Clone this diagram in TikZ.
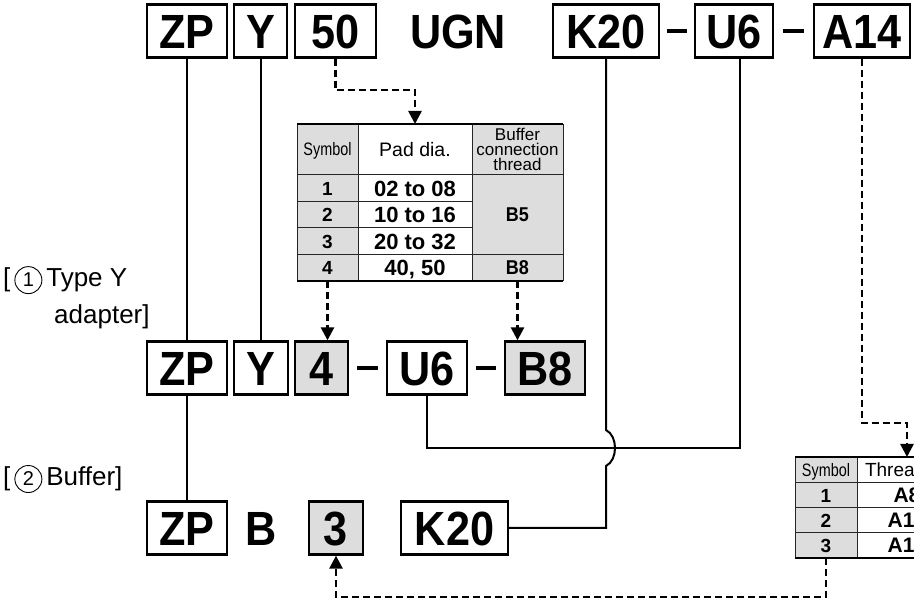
\documentclass[tikz,border=0pt]{standalone}
\usepackage{fontspec}
\setmainfont{Liberation Sans}
\newfontfamily\condf{Liberation Sans}[FakeStretch=0.9]
\newfontfamily\symf{Liberation Sans}[FakeStretch=0.8]
\usetikzlibrary{arrows.meta}
\definecolor{cg}{RGB}{221,221,221}
\newcommand{\circnum}[1]{\tikz[baseline=(cn.base)]\node[circle,draw,line width=0.9pt,inner sep=0pt,minimum size=27pt,font=\fontsize{20}{20}\selectfont](cn){#1};}
\begin{document}
\begin{tikzpicture}[x=1pt,y=-1pt,
  big/.style={inner sep=0pt,text height=34.5pt,text depth=0pt,font=\condf\bfseries\fontsize{48}{48}\selectfont},
  box/.style={big,draw,line width=2.3pt,minimum height=53pt},
  gbox/.style={box,fill=cg},
  conn/.style={line width=2pt},
  darr/.style={line width=2.5pt,dash pattern=on 7pt off 4pt,-{Triangle[width=13pt,length=13pt]}},
  hy/.style={line width=3.5pt,shorten <=8pt,shorten >=8pt},
  cell/.style={inner sep=0pt,outer sep=0pt,draw=none},
  tsym/.style={font=\symf\fontsize{18}{18}\selectfont,text height=13pt,text depth=0pt},
  treg/.style={font=\fontsize{19.5}{19.5}\selectfont,text height=14pt,text depth=0pt},
  tnum/.style={font=\bfseries\fontsize{19}{19}\selectfont,text height=13.6pt,text depth=0pt},
  tpad/.style={font=\bfseries\fontsize{22}{22}\selectfont,text height=15.8pt,text depth=0pt},
  tbuf/.style={font=\condf\bfseries\fontsize{20}{20}\selectfont,text height=14.3pt,text depth=0pt},
  tl/.style={line width=1pt,black!85},
  tk/.style={line width=2.2pt},
  lbl/.style={inner sep=0pt,font=\fontsize{26}{26}\selectfont}
]
\useasboundingbox (0,0) rectangle (914,601);
\clip (0,0) rectangle (914,601);

% ---------- top row ----------
\node[box,minimum width=80pt] (zpT) at (187,31) {ZP};
\node[box,minimum width=53pt] (yT) at (260.5,31) {Y};
\node[box,minimum width=81pt] (n50) at (335.5,31) {50};
\node[big] (ugn) at (458,31) {UGN};
\node[box,minimum width=106pt] (k20T) at (606,31) {K20};
\node[box,minimum width=78pt] (u6T) at (734,31) {U6};
\node[box,minimum width=96pt] (a14) at (862,31) {A14};
\draw[hy,shorten <=7pt,shorten >=7pt] (k20T.east) -- (u6T.west);
\draw[hy,shorten <=9pt,shorten >=9pt] (u6T.east) -- (a14.west);

% ---------- middle row ----------
\node[box,minimum width=80pt] (zpM) at (187,368) {ZP};
\node[box,minimum width=54pt] (yM) at (261,368) {Y};
\node[gbox,minimum width=53pt] (n4) at (321.5,368) {4};
\node[box,minimum width=80pt] (u6M) at (427,368) {U6};
\node[gbox,minimum width=80pt] (b8) at (545,368) {B8};
\draw[hy] (n4.east) -- (u6M.west);
\draw[hy] (u6M.east) -- (b8.west);

% ---------- bottom row ----------
\node[box,minimum width=80pt] (zpB) at (187,528) {ZP};
\node[big] (bB) at (261,528) {B};
\node[gbox,minimum width=54pt] (n3) at (336,528) {3};
\node[box,minimum width=107pt] (k20B) at (454.5,528) {K20};

% ---------- labels ----------
\node[lbl,anchor=base west] (lab1) at (3,287) {[\hspace{4pt}\circnum{1}\hspace{4pt}Type Y};
\node[lbl,anchor=base west] (lab1b) at (54,324) {adapter]};
\node[lbl,anchor=base west] (lab2) at (3,486) {[\hspace{4pt}\circnum{2}\hspace{4pt}Buffer]};

% ---------- middle table ----------
\node[cell,fill=cg,minimum width=61pt,minimum height=51pt,tsym] (symh) at (327.5,149.5) {Symbol};
\node[cell,fill=white,minimum width=114pt,minimum height=51pt,treg] (padh) at (415,149.5) {Pad dia.};
\node[cell,fill=cg,minimum width=91pt,minimum height=51pt,align=center,font=\fontsize{17}{15}\selectfont] (bufh) at (517.5,149.5) {Buffer\\connection\\thread};
\node[cell,fill=cg,minimum width=61pt,minimum height=26.5pt,tnum] (sym1) at (327.5,188.25) {1};
\node[cell,fill=cg,minimum width=61pt,minimum height=26.5pt,tnum] (sym2) at (327.5,214.75) {2};
\node[cell,fill=cg,minimum width=61pt,minimum height=26.5pt,tnum] (sym3) at (327.5,241.25) {3};
\node[cell,fill=cg,minimum width=61pt,minimum height=26.5pt,tnum] (sym4) at (327.5,267.75) {4};
\node[cell,fill=white,minimum width=114pt,minimum height=26.5pt,tpad] (pad1) at (415,188.25) {02 to 08};
\node[cell,fill=white,minimum width=114pt,minimum height=26.5pt,tpad] (pad2) at (415,214.75) {10 to 16};
\node[cell,fill=white,minimum width=114pt,minimum height=26.5pt,tpad] (pad3) at (415,241.25) {20 to 32};
\node[cell,fill=white,minimum width=114pt,minimum height=26.5pt,tpad] (pad4) at (415,267.75) {40, 50};
\node[cell,fill=cg,minimum width=91pt,minimum height=79.5pt,tbuf] (buf13) at (517.5,214.75) {B5};
\node[cell,fill=cg,minimum width=91pt,minimum height=26.5pt,tbuf] (buf4) at (517.5,267.75) {B8};
\draw[tl] (symh.north west) -- (sym4.south west);
\draw[tl] (symh.north east) -- (sym4.south east);
\draw[tl] (padh.north east) -- (pad4.south east);
\draw[tl] (bufh.north east) -- (buf4.south east);
\draw[tl] (symh.south west) -- (bufh.south east);
\draw[tl] (sym1.south west) -- (pad1.south east);
\draw[tl] (sym2.south west) -- (pad2.south east);
\draw[tl] (sym3.south west) -- (buf13.south east);
\draw[tk] (symh.north west) -- (bufh.north east);
\draw[tk] (sym4.south west) -- (buf4.south east);

% ---------- right table ----------
\node[cell,fill=cg,minimum width=62pt,minimum height=26pt,tsym] (rsh) at (826,470) {Symbol};
\node[cell,fill=white,minimum width=100pt,minimum height=26pt] (rth) at (907,470) {};
\node[cell,anchor=west,treg,font=\fontsize{19}{19}\selectfont] (rtht) at (865,470) {Thread};
\node[cell,fill=cg,minimum width=62pt,minimum height=25pt,tnum] (rs1) at (826,495.5) {1};
\node[cell,fill=cg,minimum width=62pt,minimum height=25pt,tnum] (rs2) at (826,520.5) {2};
\node[cell,fill=cg,minimum width=62pt,minimum height=25pt,tnum] (rs3) at (826,545.5) {3};
\node[cell,fill=white,minimum width=100pt,minimum height=25pt,tnum,font=\bfseries\fontsize{21}{21}\selectfont] (rt1) at (907,495.5) {A8};
\node[cell,fill=white,minimum width=100pt,minimum height=25pt,tnum,font=\bfseries\fontsize{21}{21}\selectfont] (rt2) at (907,520.5) {A10};
\node[cell,fill=white,minimum width=100pt,minimum height=25pt,tnum,font=\bfseries\fontsize{21}{21}\selectfont] (rt3) at (907,545.5) {A14};
\draw[tl] (rsh.north west) -- (rs3.south west);
\draw[tl] (rsh.north east) -- (rs3.south east);
\draw[tl] (rsh.south west) -- (rth.south east);
\draw[tl] (rs1.south west) -- (rt1.south east);
\draw[tl] (rs2.south west) -- (rt2.south east);
\draw[line width=1.5pt] (rs3.south west) -- (rt3.south east);
\draw[tk] (rsh.north west) -- (rth.north east);

% ---------- solid connectors ----------
\draw[conn] (zpT.south) -- (zpM.north);
\draw[conn] (zpM.south) -- (zpB.north);
\draw[conn] (yT.south) -- (yT.south |- yM.north);
\coordinate (u6j) at (740,448);
\draw[conn] (u6M.south) |- (u6j) -- (u6j |- u6T.south);
\coordinate (kj1) at (606,430);
\coordinate (kj2) at (606,466);
\draw[conn] (k20T.south) -- (kj1) .. controls (618,436) and (618,460) .. (kj2) |- (k20B.east);

% ---------- dashed arrows ----------
\coordinate (y90) at (0,90);
\coordinate (ya) at (0,423);
\coordinate (yb) at (0,597);
\draw[darr] (n50.south) -- (n50.south |- y90) -| (padh.north);
\draw[darr] (sym4.south) -- (sym4.south |- n4.north);
\draw[darr] (buf4.south) -- (buf4.south |- b8.north);
\draw[darr] (a14.south) -- (a14.south |- ya) -| (rth.north);
\draw[darr] (rs3.south) -- (rs3.south |- yb) -| (n3.south);
\end{tikzpicture}
\end{document}
